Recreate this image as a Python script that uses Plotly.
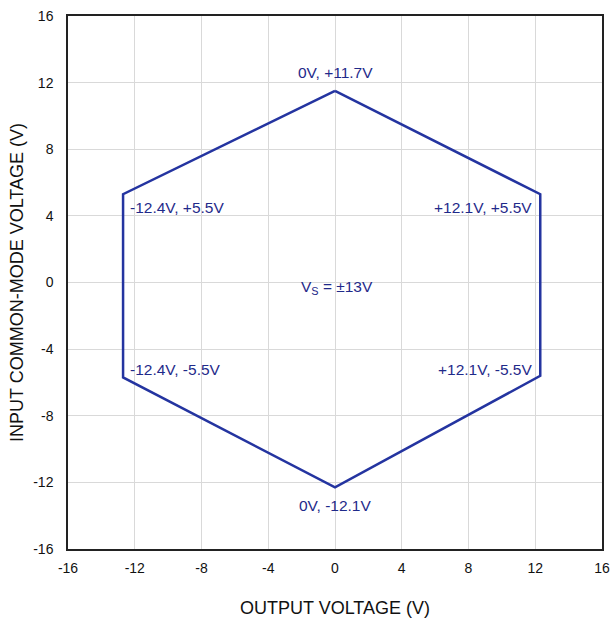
import plotly.graph_objects as go

# Hexagon vertices (output voltage, input common-mode voltage) as drawn
vx = [0, 12.3, 12.3, 0, -12.7, -12.7, 0]
vy = [11.5, 5.3, -5.6, -12.3, -5.7, 5.3, 11.5]

# Vertex labels
lab_text = ["0V, +11.7V", "+12.1V, +5.5V", "+12.1V, -5.5V", "0V, -12.1V", "-12.4V, -5.5V", "-12.4V, +5.5V"]
lab_x = [0, 11.9, 11.9, 0, -12.4, -12.4]
lab_y = [12.6, 4.5, -5.2, -13.4, -5.2, 4.5]
lab_anchor = ["center", "right", "right", "center", "left", "left"]

ticks = [-16, -12, -8, -4, 0, 4, 8, 12, 16]

BLUE_LINE = "#2434a0"
BLUE_TEXT = "#1f2a8a"
FONT = "Liberation Sans, Arial, Helvetica, sans-serif"

fig = go.Figure()
fig.add_trace(go.Scatter(x=vx, y=vy, mode="lines",
                         line=dict(color=BLUE_LINE, width=2.5),
                         hoverinfo="skip", showlegend=False))

for t, x, y, a in zip(lab_text, lab_x, lab_y, lab_anchor):
    fig.add_annotation(x=x, y=y, text=t, showarrow=False, xanchor=a, yanchor="middle",
                       font=dict(family=FONT, size=15.5, color=BLUE_TEXT))

fig.add_annotation(x=0.1, y=-0.3, text="V<sub>S</sub> = ±13V", showarrow=False,
                   xanchor="center", yanchor="middle",
                   font=dict(family=FONT, size=15.5, color=BLUE_TEXT))

axis_common = dict(range=[-16, 16], tickvals=ticks, ticktext=[str(t) for t in ticks],
                   showgrid=True, gridcolor="#d9d9d9", gridwidth=1,
                   zeroline=False, showline=True, linecolor="#222222", linewidth=1.5,
                   mirror=True, ticks="", tickfont=dict(family=FONT, size=14, color="#111111"),
                   fixedrange=True, automargin=False)

fig.update_layout(
    width=616, height=622,
    margin=dict(l=68, r=14, t=16, b=73),
    paper_bgcolor="white", plot_bgcolor="white",
    xaxis=dict(**axis_common, ticklabelstandoff=5,
               title=dict(text="OUTPUT VOLTAGE (V)", standoff=27,
                          font=dict(family=FONT, size=18, color="#111111"))),
    yaxis=dict(**axis_common, ticklabelstandoff=10,
               title=dict(text="INPUT COMMON-MODE VOLTAGE (V)", standoff=5,
                          font=dict(family=FONT, size=18, color="#111111"))),
)

fig.write_html("out.html", config={"displayModeBar": False},
               post_script="document.body.style.margin='0';document.body.style.overflow='hidden';")
